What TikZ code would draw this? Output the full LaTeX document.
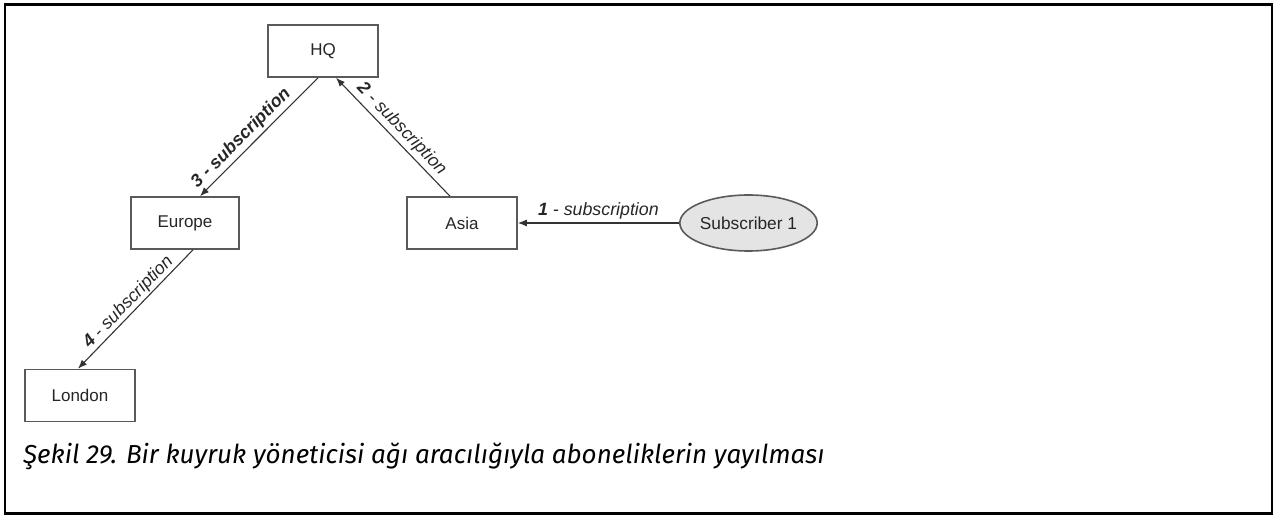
\documentclass[tikz,border=0pt]{standalone}
\usepackage{fontspec}
\setmainfont{Liberation Sans}
\newfontfamily\capfont{Fira Sans}
\usetikzlibrary{arrows.meta,shapes.geometric}
\definecolor{boxline}{HTML}{5A5A5A}
\definecolor{conn}{HTML}{333333}
\definecolor{subfill}{HTML}{E4E4E4}
\tikzset{
  qm/.style={draw=boxline, line width=1.6pt, fill=white, minimum width=110pt, minimum height=52pt, inner sep=0pt, font=\fontsize{17}{20}\selectfont, text=black!85},
  sub/.style={ellipse, draw=boxline, line width=1.6pt, fill=subfill, minimum width=128pt, minimum height=56pt, inner sep=0pt, font=\fontsize{17.3}{20}\selectfont, text=black!85},
  conn/.style={draw=conn, line width=1.1pt, -{Latex[length=9pt,width=7pt]}},
  lab/.style={font=\fontsize{17.8}{20}\selectfont\itshape, text=black!85, sloped, inner sep=3pt}
}
\begin{document}
\begin{tikzpicture}[x=1pt,y=-1pt]
\useasboundingbox (0,0) rectangle (1276,518);
\draw[line width=2.6pt] (5,4.5) rectangle (1272,513.5);
\node[qm] (hq) at (323,51) {HQ};
\node[qm, minimum width=108pt] (europe) at (185,223) {Europe};
\node[qm] (asia) at (462,223) {Asia};
\node[qm] (london) at (80,395.5) {London};
\node[sub] (s1) at (748.5,223) {Subscriber 1};
\draw[conn] (s1.west) -- node[lab, above] {\textbf{1} - subscription} (asia.east);
\draw[conn] ([xshift=-12pt]asia.north) -- node[lab, above] {\textbf{2} - subscription} ([xshift=13pt]hq.south);
\draw[conn] ([xshift=-5pt]hq.south) -- node[lab, above, pos=0.58] {\bfseries 3 - subscription} ([xshift=15pt]europe.north);
\draw[conn] ([xshift=8pt]europe.south) -- node[lab, above, inner sep=1pt] {\textbf{4} - subscription} ([xshift=-2pt]london.north);
\node[anchor=base west, inner sep=0pt, font=\capfont\fontsize{26}{30}\selectfont\itshape] (cap) at (23,463) {Şekil 29. Bir kuyruk yöneticisi ağı aracılığıyla aboneliklerin yayılması};
\end{tikzpicture}
\end{document}
